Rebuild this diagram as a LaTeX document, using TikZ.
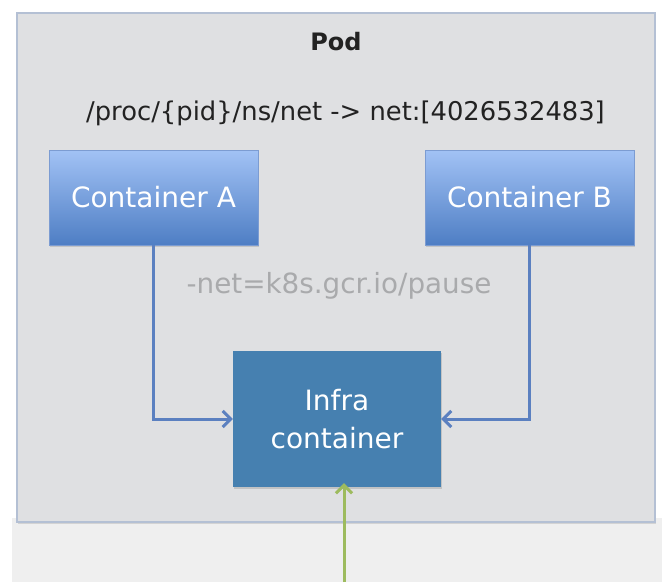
\documentclass[tikz,border=0pt]{standalone}
\usepackage{fontspec}
\setmainfont{DejaVu Sans}
\usetikzlibrary{arrows.meta,shadows,positioning}
\definecolor{podfill}{HTML}{DFE0E2}
\definecolor{podline}{HTML}{B4C0D4}
\definecolor{outerfill}{HTML}{EFEFEF}
\definecolor{ctop}{HTML}{A2C2F5}
\definecolor{cbot}{HTML}{4E7EC4}
\definecolor{cline}{HTML}{7C9CD2}
\definecolor{infrafill}{HTML}{4680B0}
\definecolor{linkblue}{HTML}{5B80C0}
\definecolor{linkgreen}{HTML}{9DBB5E}
\definecolor{hintgray}{HTML}{A9AAAC}
\definecolor{textdark}{HTML}{222222}
\tikzset{
  px/.style={x=1pt,y=-1pt},
  podbox/.style={draw=podline,line width=2.5pt,fill=podfill,
    drop shadow={shadow xshift=1pt,shadow yshift=-2pt,opacity=0.25}},
  ctrbox/.style={draw=cline,line width=0.8pt,top color=ctop,bottom color=cbot,
    minimum width=209pt,minimum height=95pt,inner sep=0pt,text=white,
    font=\fontsize{28}{32}\selectfont,
    drop shadow={shadow xshift=1pt,shadow yshift=-2pt,opacity=0.3}},
  infrabox/.style={fill=infrafill,minimum width=208pt,minimum height=136pt,
    inner sep=0pt,text=white,align=center,font=\fontsize{28}{38}\selectfont,
    drop shadow={shadow xshift=1pt,shadow yshift=-2pt,opacity=0.3}},
  link/.style={draw=linkblue,line width=3pt,
    -{Straight Barb[length=8pt,width=16pt,line width=3pt]}},
  glink/.style={draw=linkgreen,line width=3pt,
    -{Straight Barb[length=8pt,width=16pt,line width=3pt]}},
}
\begin{document}
\begin{tikzpicture}[px]
\useasboundingbox (0,0) rectangle (672,582);
\fill[white] (0,0) rectangle (672,582);
\fill[outerfill] (12,518) rectangle (662,582);
\filldraw[podbox] (17,13) rectangle (655,522);
\node[font=\bfseries\fontsize{24}{28}\selectfont,text=textdark] (pod) at (336,42) {Pod};
\node[font=\fontsize{25.8}{30}\selectfont,text=textdark] (path) at (345.5,113) {/proc/\{pid\}/ns/net -> net:[4026532483]};
\node[ctrbox] (A) at (153.5,197.5) {Container A};
\node[ctrbox] (B) at (529.5,197.5) {Container B};
\node[font=\fontsize{27.8}{32}\selectfont,text=hintgray] (hint) at (339,286) {-net=k8s.gcr.io/pause};
\node[infrabox] (I) at (337,419) {Infra\\container};
\draw[link] (A.south) |- (I.west);
\draw[link] (B.south) |- (I.east);
\coordinate (g) at (344,582);
\draw[glink] (g) -- ([yshift=4pt]g |- I.south);
\end{tikzpicture}
\end{document}
